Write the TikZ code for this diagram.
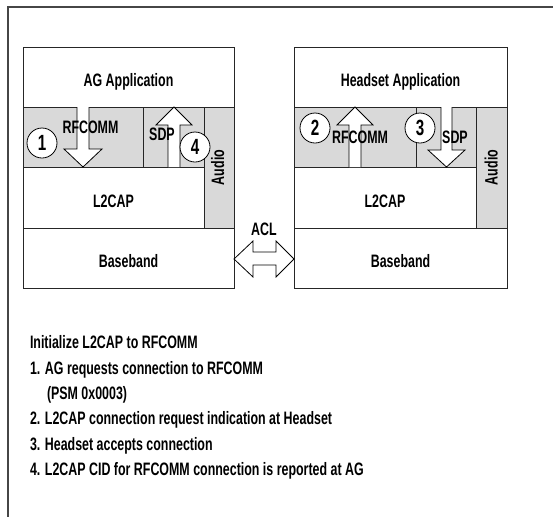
\documentclass[tikz,border=0pt]{standalone}
\usepackage{fontspec}
\setmainfont[FakeStretch=0.69]{Liberation Sans}
\usetikzlibrary{fit}
\definecolor{bandgray}{RGB}{217,217,217}
\definecolor{framegray}{RGB}{70,70,70}
\begin{document}
\begin{tikzpicture}[x=1pt,y=-1pt,
  lay/.style={draw=black!85, line width=0.8pt, inner sep=0pt, outer sep=0pt, fill=white},
  greylay/.style={lay, fill=bandgray},
  txt/.style={font=\fontsize{18}{20}\bfseries, inner sep=0pt, outer sep=0pt, anchor=base},
  listtxt/.style={txt, anchor=base west},
  num/.style={circle, draw=black, line width=0.8pt, fill=white, minimum size=30pt, inner sep=0pt, font=\fontsize{22}{24}\bfseries},
  blockarrow/.style={draw=black, line width=0.8pt, fill=white, line join=miter},
  framel/.style={draw=framegray, line width=1.5pt}]
\useasboundingbox (0,0) rectangle (553,517);
\fill[white] (0,0) rectangle (553,517);

% outer frame (only top and left edges visible)
\coordinate (ftr) at (553,7);
\coordinate (ftl) at (8,7);
\coordinate (fbl) at (8,517);
\draw[framel] (ftr) -- (ftl) -- (fbl);

% ---------- left stack (AG) ----------
\node[greylay, fit={(23,107)(143,167)}] (lrf) {};
\node[greylay, fit={(143,107)(204,167)}] (lsdp) {};
\node[greylay, fit={(204,107)(234,228)}] (laud) {};
\node[lay, fit={(23,47)(234,107)}] (lapp) {};
\node[lay, fit={(23,167)(204,228)}] (ll2) {};
\node[lay, fit={(23,228)(234,288)}] (lbb) {};

% ---------- right stack (Headset) ----------
\node[greylay, fit={(294,107)(416,167)}] (rrf) {};
\node[greylay, fit={(416,107)(476,167)}] (rsdp) {};
\node[greylay, fit={(476,107)(507,228)}] (raud) {};
\node[lay, fit={(294,47)(507,107)}] (rapp) {};
\node[lay, fit={(294,167)(476,228)}] (rl2) {};
\node[lay, fit={(294,228)(507,288)}] (rbb) {};

% ---------- block arrows ----------
\draw[blockarrow] (77,107) -- (77,149) -- (64,149) -- (83,167) -- (102,149) -- (89,149) -- (89,107);
\draw[blockarrow] (168,167) -- (168,125) -- (156,125) -- (174,107) -- (192,125) -- (180,125) -- (180,167);
\draw[blockarrow] (349,167) -- (349,125) -- (337,125) -- (355,107) -- (373,125) -- (361,125) -- (361,167);
\draw[blockarrow] (441,107) -- (441,150) -- (428,150) -- (446.5,167) -- (465,150) -- (452,150) -- (452,107);

% ACL double arrow between basebands
\draw[blockarrow] (lbb.east |- 0,259) -- (253,241) -- (253,252) -- (276,252) -- (276,241)
  -- (rbb.west |- 0,259) -- (276,277) -- (276,265) -- (253,265) -- (253,277) -- cycle;
\node[txt] (acl) at (264,235) {ACL};

% ---------- labels ----------
\node[txt] (tlapp) at (128.5,86) {AG Application};
\node[txt] (tlrf) at (90.5,133) {RFCOMM};
\node[txt] (tlsdp) at (162,140) {SDP};
\node[txt, rotate=90] (tlaud) at (224,167.5) {Audio};
\node[txt] (tll2) at (113.5,207) {L2CAP};
\node[txt] (tlbb) at (128.5,267) {Baseband};

\node[txt] (trapp) at (400.5,86) {Headset Application};
\node[txt] (trrf) at (360,143) {RFCOMM};
\node[txt] (trsdp) at (455,143) {SDP};
\node[txt, rotate=90] (traud) at (497.5,167.5) {Audio};
\node[txt] (trl2) at (385,207) {L2CAP};
\node[txt] (trbb) at (400.5,267) {Baseband};

% ---------- numbered circles ----------
\node[num] (c1) at (42,143) {1};
\node[num] (c4) at (195,147) {4};
\node[num] (c2) at (315,128) {2};
\node[num] (c3) at (420,128) {3};

% ---------- legend ----------
\node[listtxt] (l0) at (30,348) {Initialize L2CAP to RFCOMM};
\node[listtxt] (l1) at (30,374) {1. AG requests connection to RFCOMM};
\node[listtxt] (l1b) at (47,399) {(PSM 0x0003)};
\node[listtxt] (l2) at (30,424) {2. L2CAP connection request indication at Headset};
\node[listtxt] (l3) at (30,450) {3. Headset accepts connection};
\node[listtxt] (l4) at (30,475) {4. L2CAP CID for RFCOMM connection is reported at AG};
\end{tikzpicture}
\end{document}
